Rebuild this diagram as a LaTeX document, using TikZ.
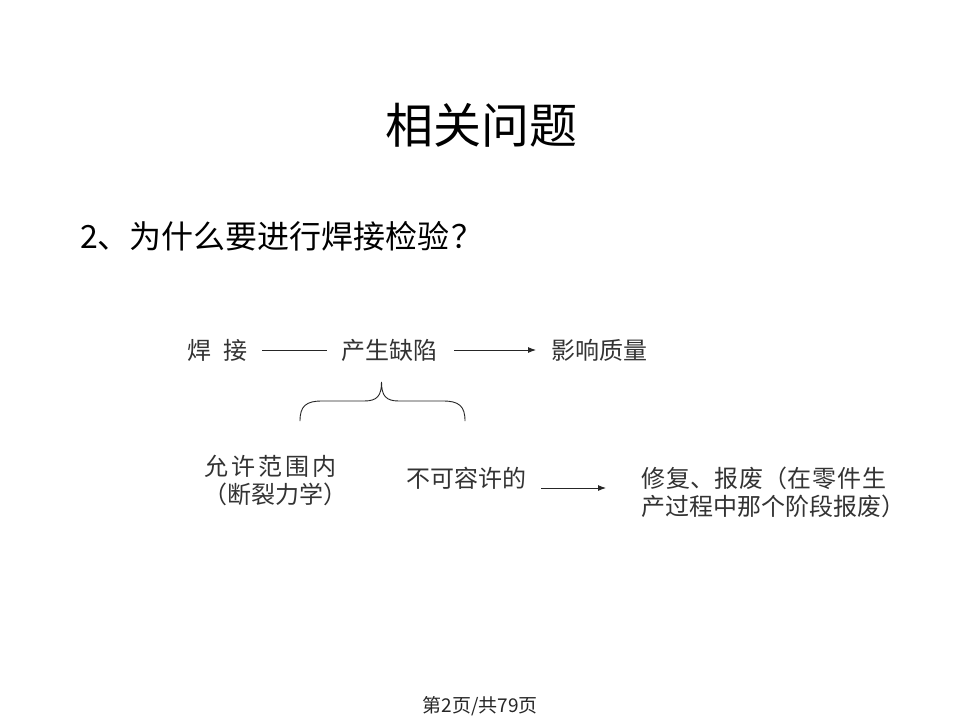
\documentclass[tikz,border=0pt]{standalone}
\usepackage{fontspec}
\newfontfamily\cjk{Noto Sans CJK SC}
\usetikzlibrary{arrows.meta}
\tikzset{
  txt/.style={inner sep=0pt, anchor=west, font=\cjk\fontsize{24}{28}\selectfont, text=black!80},
  conn/.style={line width=0.9pt, draw=black!85},
  arr/.style={conn, -{Latex[length=8pt,width=6pt]}},
}
\begin{document}
\begin{tikzpicture}[x=1pt,y=-1pt]
\useasboundingbox[fill=white] (0,0) rectangle (960,720);
\node[inner sep=0pt, font=\cjk\fontsize{48}{52}\selectfont] (title) at (481,125) {相关问题};
\node[inner sep=0pt, anchor=west, font=\cjk\fontsize{32}{36}\selectfont] (q) at (80,236) {2、为什么要进行焊接检验\hspace{2pt}？};
\node[txt] (weld) at (187,350) {焊\hspace{0.5em}接};
\node[txt] (defect) at (341,350) {产生缺陷};
\node[txt] (impact) at (551,350) {影响质量};
\draw[conn, shorten <=15pt, shorten >=14pt] (weld.east) -- (defect.west);
\draw[arr, shorten <=17pt, shorten >=15pt] (defect.east) -- (impact.west);
\coordinate (bl) at (300,421);
\coordinate (br) at (465,421);
\coordinate (tip) at (381.5,382);
\draw[conn] (bl) .. controls (300,406) and (306,401) .. (322,401) -- (364,401)
  .. controls (377,401) and (381.5,396) .. (tip)
  .. controls (381.5,396) and (386,401) .. (399,401) -- (443,401)
  .. controls (459,401) and (465,406) .. (br);
\node[txt] (allow) at (204,466) {允\hspace{3pt}许\hspace{3pt}范\hspace{3pt}围\hspace{3pt}内};
\node[txt] (frac) at (203,494) {（断裂力学）};
\node[txt] (notallow) at (406,478) {不可容许的};
\node[txt, align=left] (repair) at (641,492) {修\hspace{1pt}复、报\hspace{1pt}废（在\hspace{1pt}零\hspace{1pt}件\hspace{1pt}生\\产过程中那个阶段报废）};
\draw[arr, shorten <=15pt, shorten >=35pt] (notallow.east |- 0,488) coordinate (a1) -- (repair.west |- 0,488) coordinate (a2);
\node[inner sep=0pt, font=\cjk\fontsize{19}{22}\selectfont, text=black!85] (foot) at (480,706) {第2页/共79页};
\end{tikzpicture}
\end{document}
